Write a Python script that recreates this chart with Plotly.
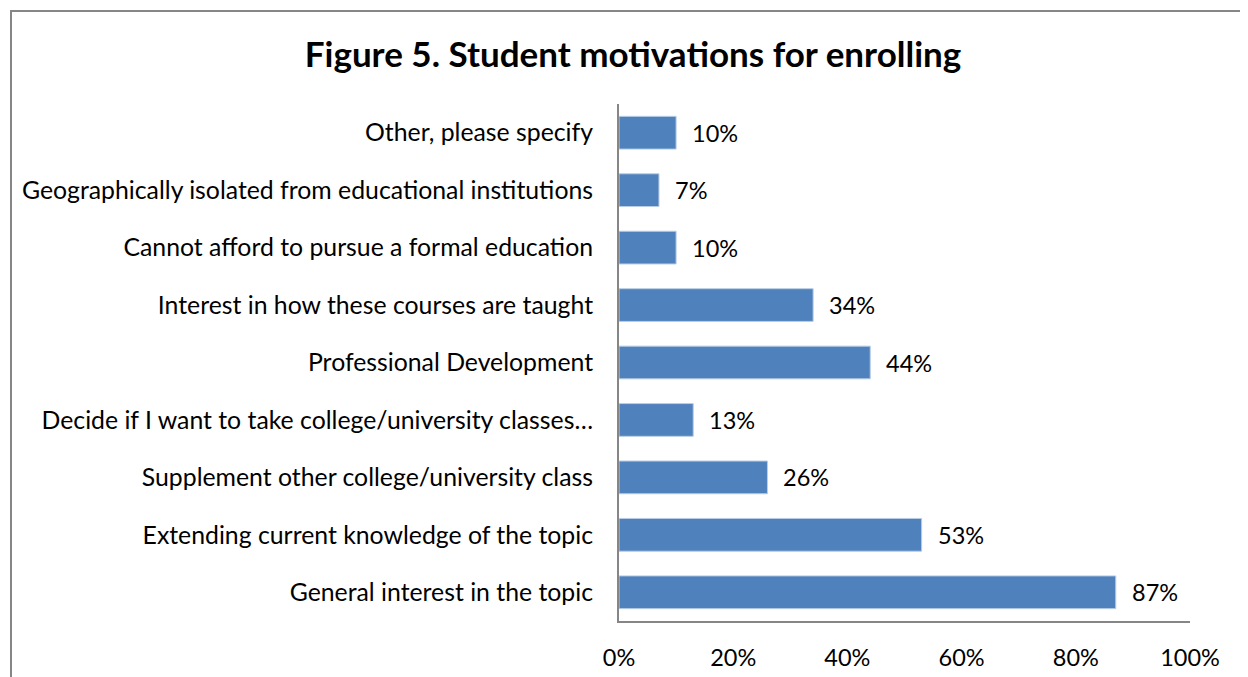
import plotly.graph_objects as go

categories = [
    "Other, please specify",
    "Geographically isolated from educational institutions",
    "Cannot afford to pursue a formal education",
    "Interest in how these courses are taught",
    "Professional Development",
    "Decide if I want to take college/university classes…",
    "Supplement other college/university class",
    "Extending current knowledge of the topic",
    "General interest in the topic",
]
values = [0.10, 0.07, 0.10, 0.34, 0.44, 0.13, 0.26, 0.53, 0.87]
labels = ["10%", "7%", "10%", "34%", "44%", "13%", "26%", "53%", "87%"]
tick_vals = [0, 0.2, 0.4, 0.6, 0.8, 1.0]
tick_text = ["0%", "20%", "40%", "60%", "80%", "100%"]
title_text = "Figure 5. Student motivations for enrolling"

FONT = "Lato"

fig = go.Figure()
fig.add_trace(go.Bar(
    x=values, y=categories, orientation="h",
    marker=dict(color="#4F81BD", line=dict(color="#B9CDE5", width=1)),
    hoverinfo="skip",
))

for c, v, t in zip(categories, values, labels):
    fig.add_annotation(x=v, y=c, xref="x", yref="y", text=t, showarrow=False,
                       xanchor="left", xshift=14,
                       font=dict(family=FONT, size=23.5, color="#000000"))

fig.add_shape(type="rect", xref="paper", yref="paper",
              x0=-1.0648, x1=1.3, y0=-0.3, y1=1.1799,
              line=dict(color="#868686", width=2), fillcolor="rgba(0,0,0,0)",
              layer="below")

fig.update_layout(
    width=1240, height=669,
    margin=dict(l=611, r=58, t=96, b=56),
    paper_bgcolor="white", plot_bgcolor="white",
    bargap=0.43,
    showlegend=False,
    title=dict(text="<b>" + title_text + "</b>", x=625 / 1240, xanchor="center",
               y=1 - 47 / 669, yanchor="middle",
               font=dict(family=FONT, size=35, color="#000000")),
    font=dict(family=FONT, size=24, color="#000000"),
)
fig.update_xaxes(range=[0, 1], tickvals=tick_vals, ticktext=tick_text,
                 showgrid=False, zeroline=False, showline=True,
                 linecolor="#868686", linewidth=2, ticks="",
                 ticklabelstandoff=15, automargin=False,
                 tickfont=dict(family=FONT, size=23.5, color="#000000"))
fig.update_yaxes(autorange="reversed", showgrid=False, zeroline=False,
                 showline=True, linecolor="#868686", linewidth=2, ticks="",
                 ticklabelstandoff=19, automargin=False,
                 tickfont=dict(family=FONT, size=24.8, color="#000000"))

fig.write_html("out.html")
